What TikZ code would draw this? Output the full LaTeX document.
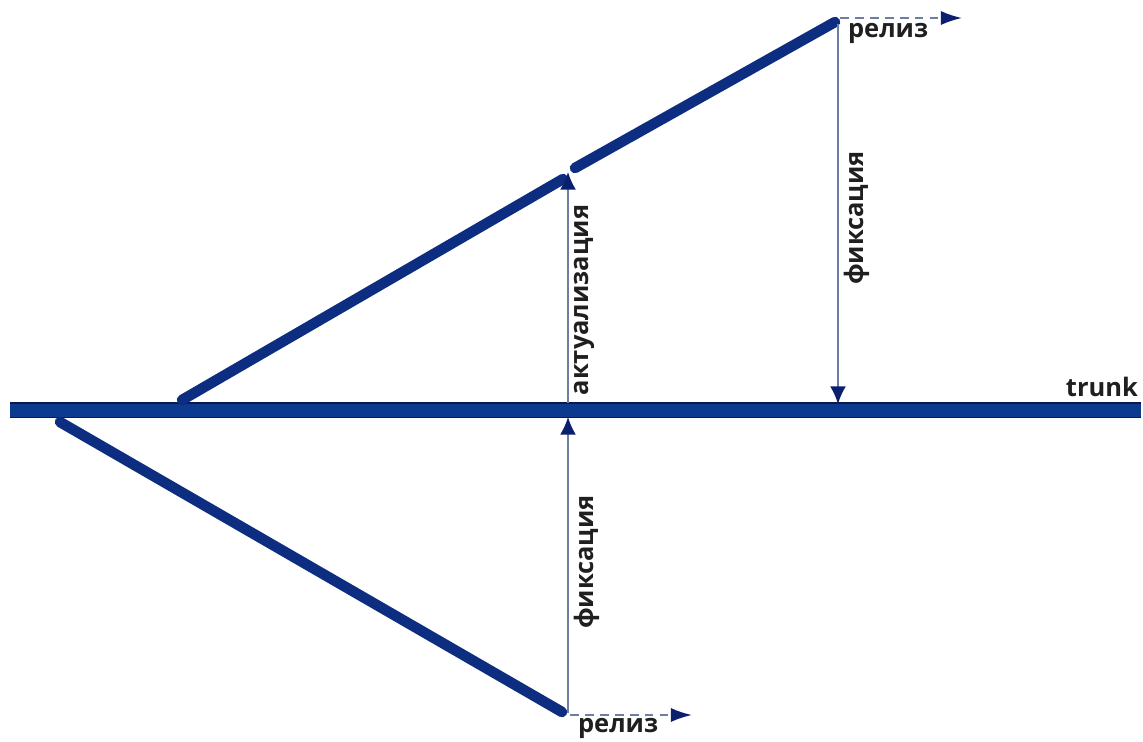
\documentclass[tikz,border=0pt]{standalone}
\usepackage{fontspec}
\setmainfont{Open Sans}
\usetikzlibrary{positioning, arrows.meta}

\definecolor{branchblue}{HTML}{0D2D80}
\definecolor{trunkblue}{HTML}{0B3A8F}
\definecolor{trunkedge}{HTML}{0A1A4A}
\definecolor{arrowgray}{HTML}{6B7FA3}
\definecolor{tipblue}{HTML}{0A1F6E}

\begin{document}
\begin{tikzpicture}[x=0.02cm, y=-0.02cm]
\tikzset{
    every node/.style={font=\bfseries\fontsize{14.5}{16}\selectfont, text=black!88, inner sep=1pt},
    branchline/.style={draw=branchblue, line width=6pt, line cap=round},
    trunkline/.style={draw=trunkblue, line width=7.4pt},
    actionarrow/.style={draw=arrowgray, line width=0.9pt, -{Latex[length=10pt, width=9pt, color=tipblue]}},
    releasearrow/.style={draw=arrowgray, line width=1.1pt, dash pattern=on 5pt off 3.5pt, -{Latex[length=12pt, width=8pt, color=tipblue]}}
}
\useasboundingbox (0,0) rectangle (1143,741);

% trunk
\coordinate (trunkstart) at (10,410);
\coordinate (trunkend) at (1141,410);
\draw[draw=trunkedge, line width=8.6pt] (trunkstart) -- (trunkend);
\draw[trunkline] (trunkstart) -- (trunkend);
\node[anchor=south east] (trunk) at (1140,399) {trunk};

% upper branch
\coordinate (upstart) at (182,400);
\coordinate (upbend) at (563,179);
\coordinate (upresume) at (575,168);
\coordinate (uptop) at (835,22);
\draw[branchline] (upstart) -- (upbend);
\draw[branchline] (upresume) -- (uptop);

% lower branch
\coordinate (lowstart) at (60,422);
\coordinate (lowend) at (562,712);
\draw[branchline] (lowstart) -- (lowend);

% merges
\coordinate (updatefoot) at (568,403);
\coordinate (updatehead) at (568,172);
\draw[actionarrow] (updatefoot) -- (updatehead);
\node[rotate=90, anchor=north] (update) at (572,300) {актуализация};

\coordinate (commitfoot) at (838,24);
\coordinate (commithead) at (838,404);
\draw[actionarrow] (commitfoot) -- (commithead);
\node[rotate=90, anchor=north] (commitup) at (842,218) {фиксация};

\coordinate (commitlowfoot) at (568,713);
\coordinate (commitlowhead) at (568,417);
\draw[actionarrow] (commitlowfoot) -- (commitlowhead);
\node[rotate=90, anchor=north] (commitlow) at (572,562) {фиксация};

% releases
\coordinate (relupstart) at (840,18);
\coordinate (relupend) at (962,18);
\draw[releasearrow] (relupstart) -- (relupend);
\node[anchor=north west] (relup) at (846,21) {релиз};

\coordinate (rellowstart) at (570,715);
\coordinate (rellowend) at (692,715);
\draw[releasearrow] (rellowstart) -- (rellowend);
\node[anchor=north west] (rellow) at (576,716) {релиз};
\end{tikzpicture}
\end{document}
